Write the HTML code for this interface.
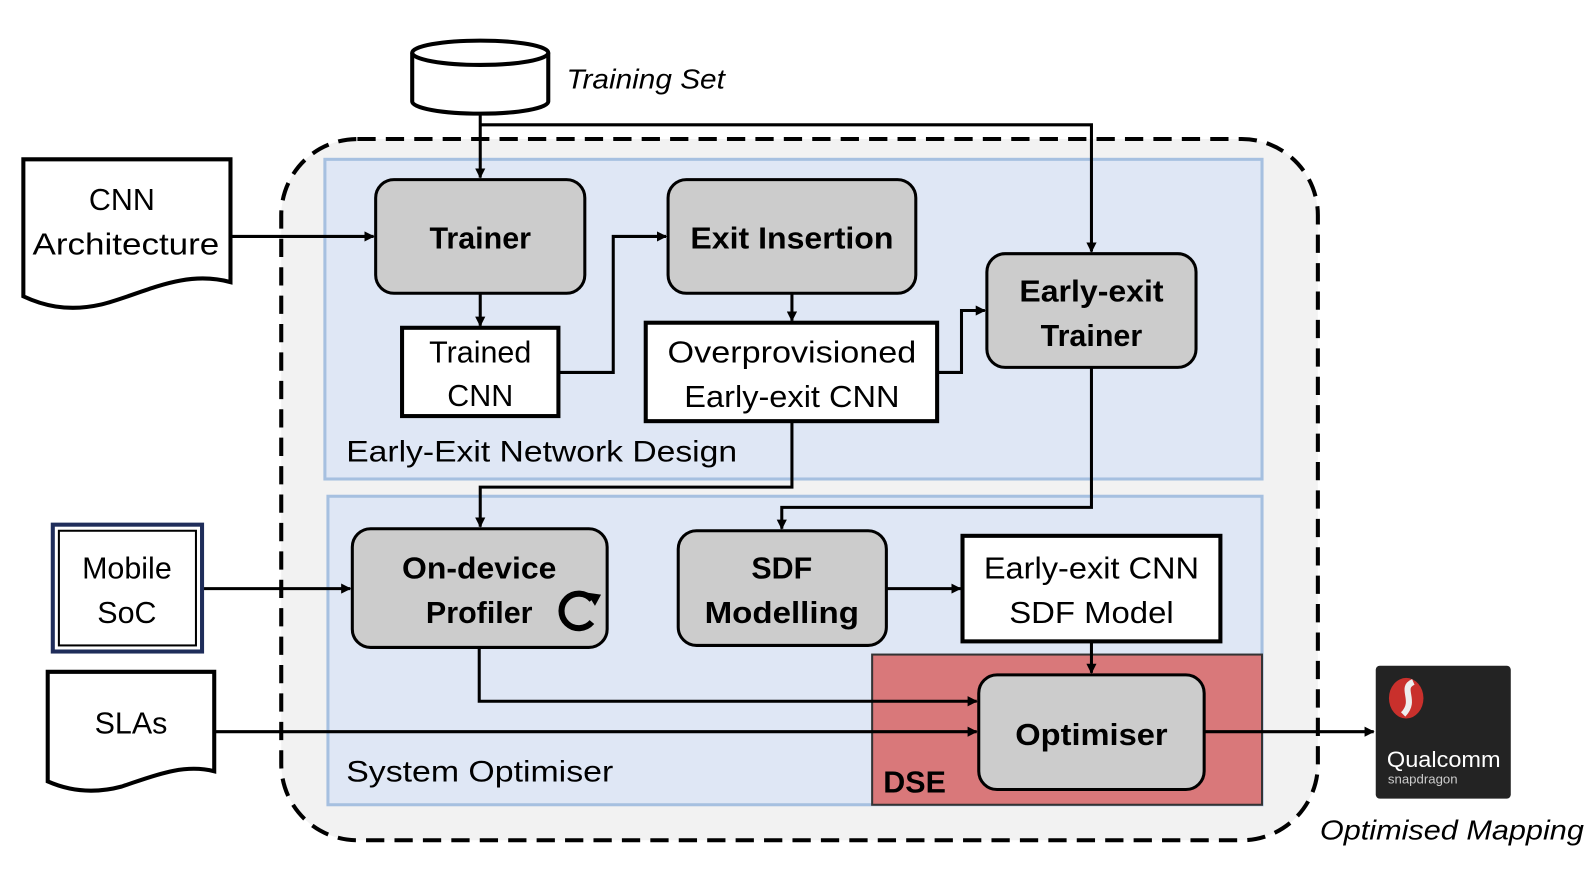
<!DOCTYPE html>
<html><head><meta charset="utf-8"><style>html,body{margin:0;padding:0;background:#fff}svg{display:block}text{font-family:"Liberation Sans",sans-serif}</style></head><body>
<svg width="1592" height="890" viewBox="0 0 1568 877" preserveAspectRatio="none" xmlns="http://www.w3.org/2000/svg">
<defs><marker id="a" markerWidth="10" markerHeight="10" refX="9" refY="5" orient="auto" markerUnits="userSpaceOnUse"><path d="M0,0 L10,5 L0,10z" fill="#000"/></marker></defs>
<rect x="277" y="137" width="1021" height="691" rx="75" fill="#f2f2f2" stroke="#000" stroke-width="4" stroke-dasharray="18,10"/>
<rect x="320" y="157" width="923" height="315" fill="#dfe7f5" stroke="#a6c0e0" stroke-width="3"/>
<rect x="323" y="489" width="920" height="304" fill="#dfe7f5" stroke="#a6c0e0" stroke-width="3"/>
<rect x="859" y="645" width="384" height="148" fill="#d9787a" stroke="#333" stroke-width="2"/>
<text x="870" y="781" font-size="30" font-weight="bold">DSE</text>
<text x="341" y="455" font-size="29" textLength="385" lengthAdjust="spacingAndGlyphs">Early-Exit Network Design</text>
<text x="341" y="770" font-size="29" textLength="263" lengthAdjust="spacingAndGlyphs">System Optimiser</text>
<!-- cylinder -->
<path d="M406,52 L406,100 A67,12 0 0 0 540,100 L540,52" fill="#fff" stroke="#000" stroke-width="4"/>
<ellipse cx="473" cy="52" rx="67" ry="12" fill="#fff" stroke="#000" stroke-width="4"/>
<text x="558" y="87" font-size="27" font-style="italic" textLength="156" lengthAdjust="spacingAndGlyphs">Training Set</text>
<!-- connectors -->
<g fill="none" stroke="#000" stroke-width="3">
<path d="M473,112 V175" marker-end="url(#a)"/>
<path d="M473,123 H1075 V248" marker-end="url(#a)"/>
<path d="M227,233 H368" marker-end="url(#a)"/>
<path d="M473,289 V321" marker-end="url(#a)"/>
<path d="M550,367 H604 V233 H656" marker-end="url(#a)"/>
<path d="M780,289 V316" marker-end="url(#a)"/>
<path d="M923,367 H947 V306 H970" marker-end="url(#a)"/>
<path d="M780,415 V480 H473 V519" marker-end="url(#a)"/>
<path d="M1075,362 V500 H770 V521" marker-end="url(#a)"/>
<path d="M199,580 H345" marker-end="url(#a)"/>
<path d="M873,580 H946" marker-end="url(#a)"/>
<path d="M1075,632 V663" marker-end="url(#a)"/>
<path d="M472,638 V691 H962" marker-end="url(#a)"/>
<path d="M211,721 H962" marker-end="url(#a)"/>
<path d="M1186,721 H1353" marker-end="url(#a)"/>
</g>
<!-- docs -->
<path d="M23,157 H227 V278 C180,265 140,290 100,300 C65,308 40,300 23,292 Z" fill="#fff" stroke="#000" stroke-width="4"/>
<text x="120" y="207" font-size="30" text-anchor="middle">CNN</text>
<text x="124" y="251" font-size="30" text-anchor="middle" textLength="184" lengthAdjust="spacingAndGlyphs">Architecture</text>
<path d="M47,662 H211 V760 C180,752 150,765 120,775 C90,783 65,778 47,770 Z" fill="#fff" stroke="#000" stroke-width="4"/>
<text x="129" y="723" font-size="30" text-anchor="middle">SLAs</text>
<!-- Mobile SoC -->
<rect x="52" y="517" width="147" height="125" fill="#fff" stroke="#1f2d5a" stroke-width="4"/>
<rect x="58" y="523" width="135" height="113" fill="none" stroke="#000" stroke-width="2"/>
<text x="125" y="570" font-size="30" text-anchor="middle">Mobile</text>
<text x="125" y="614" font-size="30" text-anchor="middle">SoC</text>
<!-- grey boxes -->
<g fill="#cccccc" stroke="#000" stroke-width="3">
<rect x="370" y="177" width="206" height="112" rx="18"/>
<rect x="658" y="177" width="244" height="112" rx="18"/>
<rect x="972" y="250" width="206" height="112" rx="18"/>
<rect x="347" y="521" width="251" height="117" rx="18"/>
<rect x="668" y="523" width="205" height="113" rx="18"/>
<rect x="964" y="665" width="222" height="113" rx="18"/>
</g>
<g font-size="30" font-weight="bold" text-anchor="middle">
<text x="473" y="245">Trainer</text>
<text x="780" y="245" textLength="200" lengthAdjust="spacingAndGlyphs">Exit Insertion</text>
<text x="1075" y="297" textLength="142" lengthAdjust="spacingAndGlyphs">Early-exit</text>
<text x="1075" y="341">Trainer</text>
<text x="472" y="570" textLength="152" lengthAdjust="spacingAndGlyphs">On-device</text>
<text x="472" y="614">Profiler</text>
<text x="770" y="570">SDF</text>
<text x="770" y="614" textLength="152" lengthAdjust="spacingAndGlyphs">Modelling</text>
<text x="1075" y="734" textLength="150" lengthAdjust="spacingAndGlyphs">Optimiser</text>
</g>
<path d="M583,591 A17,17 0 1 0 583,613" fill="none" stroke="#000" stroke-width="6"/>
<path d="M578,584 L592,586 L586,597z" fill="#000"/>
<!-- white boxes -->
<g fill="#fff" stroke="#000" stroke-width="4">
<rect x="396" y="323" width="154" height="87"/>
<rect x="636" y="318" width="287" height="97"/>
<rect x="948" y="528" width="254" height="104"/>
</g>
<g font-size="30" text-anchor="middle">
<text x="473" y="357">Trained</text>
<text x="473" y="400">CNN</text>
<text x="780" y="357" textLength="245" lengthAdjust="spacingAndGlyphs">Overprovisioned</text>
<text x="780" y="401" textLength="212" lengthAdjust="spacingAndGlyphs">Early-exit CNN</text>
<text x="1075" y="570" textLength="212" lengthAdjust="spacingAndGlyphs">Early-exit CNN</text>
<text x="1075" y="614" textLength="162" lengthAdjust="spacingAndGlyphs">SDF Model</text>
</g>
<!-- chip -->
<rect x="1355" y="656" width="133" height="131" rx="4" fill="#232323"/>
<ellipse cx="1385" cy="688" rx="17" ry="20" fill="#c9302c"/>
<path d="M1392,672 C1378,678 1396,690 1382,704" stroke="#eee" stroke-width="6" fill="none"/>
<text x="1366" y="756" font-size="22" fill="#fff" textLength="112" lengthAdjust="spacingAndGlyphs">Qualcomm</text>
<text x="1367" y="772" font-size="13" fill="#ccc">snapdragon</text>
<text x="1300" y="827" font-size="27" font-style="italic" textLength="260" lengthAdjust="spacingAndGlyphs">Optimised Mapping</text>
</svg>
</body></html>
